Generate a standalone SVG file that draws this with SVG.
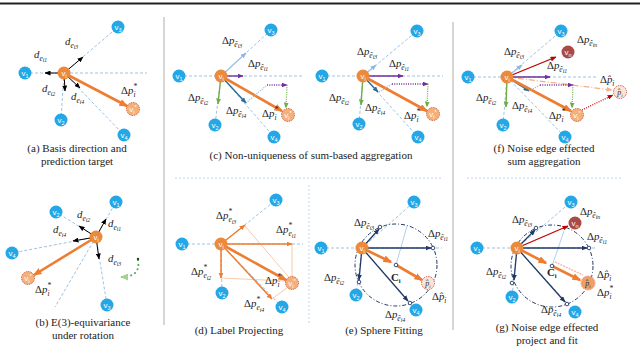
<svg xmlns="http://www.w3.org/2000/svg" width="640" height="348" viewBox="0 0 640 348">
<defs>
<style>
.n{fill:#23a7e6}
.ni{fill:#ec8a3c}
.vs{fill:#f5b07a;stroke:#c55a3a;stroke-width:0.9;stroke-dasharray:1.5 1}
.ph{fill:#fbe3d6;stroke:#c0504d;stroke-width:0.9;stroke-dasharray:1.5 1}
.vn{fill:#a94a45}
.nl{font-family:"Liberation Sans",Arial,sans-serif;font-size:8px;fill:#fff;text-anchor:middle}
.nl2{font-family:"Liberation Serif",serif;font-size:8px;fill:#333;text-anchor:middle;font-style:italic}
.m{font-family:"Liberation Serif","Times New Roman",serif;font-size:10.8px;fill:#222}
.it{font-style:italic}
.s1{font-size:7.5px;font-style:italic}
.s2{font-size:5.8px;font-style:italic}
.cap{font-family:"Liberation Serif","Times New Roman",serif;font-size:11px;fill:#222;text-anchor:middle}
.dl{stroke:#9dc3e6;stroke-width:1;stroke-dasharray:3 2;fill:none}
.bk{stroke:#000;stroke-width:1;marker-end:url(#mk)}
.or{stroke:#ed7d31;stroke-width:2.6;marker-end:url(#mo)}
.or1{stroke:#ed7d31;stroke-width:1.5;marker-end:url(#mo2)}
.pu{stroke:#7030a0;stroke-width:1.4;marker-end:url(#mp)}
.gr{stroke:#70ad47;stroke-width:1.4;marker-end:url(#mg)}
.te{stroke:#2a6f97;stroke-width:1.4;marker-end:url(#mt)}
.lb{stroke:#9dc3e6;stroke-width:1.4;marker-end:url(#mb)}
.nv{stroke:#203864;stroke-width:1.3;marker-end:url(#mn)}
.rd{stroke:#c00000;stroke-width:1.3;marker-end:url(#mr)}
.dot{stroke-width:1.3;stroke-dasharray:1 1.3;fill:none}
.prj{stroke:#f8cbad;stroke-width:1;fill:none}
.sph{stroke:#203864;stroke-width:1;stroke-dasharray:4 2 1 2;fill:none}
.mkc{fill:#fff;stroke:#203864;stroke-width:0.9}
.sep{stroke:#c8c8c8;stroke-width:1.5}
.hsep{stroke:#bdd7ee;stroke-width:1;stroke-dasharray:2 2}
</style>
<marker id="mk" viewBox="0 0 6 5" refX="5.5" refY="2.5" markerWidth="6" markerHeight="5" markerUnits="userSpaceOnUse" orient="auto"><path d="M0,0L6,2.5L0,5z" fill="#000"/></marker>
<marker id="mo" viewBox="0 0 9 7" refX="7.5" refY="3.5" markerWidth="9" markerHeight="7" markerUnits="userSpaceOnUse" orient="auto"><path d="M0,0L9,3.5L0,7z" fill="#ed7d31"/></marker>
<marker id="mo2" viewBox="0 0 6 5" refX="5.5" refY="2.5" markerWidth="6" markerHeight="5" markerUnits="userSpaceOnUse" orient="auto"><path d="M0,0L6,2.5L0,5z" fill="#ed7d31"/></marker>
<marker id="ml" viewBox="0 0 6 5" refX="5.5" refY="2.5" markerWidth="6" markerHeight="5" markerUnits="userSpaceOnUse" orient="auto"><path d="M0,0L6,2.5L0,5z" fill="#f4b183"/></marker>
<marker id="mp" viewBox="0 0 6 5" refX="5.5" refY="2.5" markerWidth="6" markerHeight="5" markerUnits="userSpaceOnUse" orient="auto"><path d="M0,0L6,2.5L0,5z" fill="#7030a0"/></marker>
<marker id="mg" viewBox="0 0 6 5" refX="5.5" refY="2.5" markerWidth="6" markerHeight="5" markerUnits="userSpaceOnUse" orient="auto"><path d="M0,0L6,2.5L0,5z" fill="#70ad47"/></marker>
<marker id="mgl" viewBox="0 0 8 7" refX="7" refY="3.5" markerWidth="8" markerHeight="7" markerUnits="userSpaceOnUse" orient="auto"><path d="M0,0L8,3.5L0,7z" fill="#a9d18e"/></marker>
<marker id="mt" viewBox="0 0 6 5" refX="5.5" refY="2.5" markerWidth="6" markerHeight="5" markerUnits="userSpaceOnUse" orient="auto"><path d="M0,0L6,2.5L0,5z" fill="#2a6f97"/></marker>
<marker id="mb" viewBox="0 0 6 5" refX="5.5" refY="2.5" markerWidth="6" markerHeight="5" markerUnits="userSpaceOnUse" orient="auto"><path d="M0,0L6,2.5L0,5z" fill="#8db9e2"/></marker>
<marker id="mn" viewBox="0 0 6 5" refX="5.5" refY="2.5" markerWidth="6" markerHeight="5" markerUnits="userSpaceOnUse" orient="auto"><path d="M0,0L6,2.5L0,5z" fill="#203864"/></marker>
<marker id="mr" viewBox="0 0 6 5" refX="5.5" refY="2.5" markerWidth="6" markerHeight="5" markerUnits="userSpaceOnUse" orient="auto"><path d="M0,0L6,2.5L0,5z" fill="#c00000"/></marker>
</defs>
<rect width="640" height="348" fill="#fff"/>

<g id="frame">
<line x1="0" y1="3.5" x2="640" y2="3.5" stroke="#222" stroke-width="2"/>
<line class="sep" x1="164" y1="17" x2="164" y2="325"/>
<line class="sep" x1="453" y1="22" x2="453" y2="330"/>
<line class="hsep" x1="175" y1="178" x2="443" y2="178"/>
<line class="hsep" x1="467" y1="178" x2="622" y2="178"/>
<line class="hsep" x1="309" y1="185" x2="309" y2="325"/>
</g>

<g id="connectors" fill="none">
<g id="conn-a">
<line class="dl" x1="25" y1="73" x2="147" y2="73"/>
<line class="dl" x1="64" y1="73" x2="118" y2="27"/>
<line class="dl" x1="64" y1="73" x2="61" y2="120"/>
<line class="dl" x1="64" y1="73" x2="124" y2="135"/>
<line class="bk" x1="64" y1="73" x2="45" y2="73"/>
<line class="bk" x1="64" y1="73" x2="83" y2="57"/>
<line class="bk" x1="64" y1="73" x2="65" y2="91"/>
<line class="bk" x1="64" y1="73" x2="80" y2="88"/>
<line class="or" x1="64" y1="73" x2="127" y2="106"/>
</g>
<g id="conn-b">
<line class="dl" x1="96" y1="237" x2="116" y2="202"/>
<line class="dl" x1="96" y1="237" x2="56" y2="212"/>
<line class="dl" x1="96" y1="237" x2="12" y2="253"/>
<line class="dl" x1="96" y1="237" x2="107" y2="305"/>
<line class="dl" x1="96" y1="237" x2="55" y2="307"/>
<line class="bk" x1="96" y1="237" x2="106" y2="219"/>
<line class="bk" x1="96" y1="237" x2="79" y2="226"/>
<line class="bk" x1="96" y1="237" x2="73" y2="241"/>
<line class="bk" x1="96" y1="237" x2="99" y2="259"/>
<line class="or" x1="96" y1="237" x2="34" y2="275"/>
<path d="M138,260 Q141,277 121,277" stroke="#4caf50" stroke-width="2" stroke-linecap="round" stroke-dasharray="0.1 4.5" marker-end="url(#mgl)"/>
<circle cx="138" cy="259" r="1.2" fill="#333"/>
</g>
<g id="conn-c1">
<line class="dl" x1="179" y1="76" x2="303" y2="76"/>
<line class="dl" x1="221" y1="76" x2="271" y2="30"/>
<line class="dl" x1="221" y1="76" x2="215" y2="125"/>
<line class="dl" x1="221" y1="76" x2="274" y2="137"/>
<line class="lb" x1="221" y1="76" x2="246" y2="53"/>
<line class="pu" x1="221" y1="76" x2="243" y2="76"/>
<line class="gr" x1="221" y1="76" x2="218" y2="104"/>
<line class="te" x1="221" y1="76" x2="246" y2="103"/>
<line class="or" x1="221" y1="76" x2="282" y2="111"/>
<line class="dot" stroke="#8db9e2" x1="246" y1="103" x2="267" y2="85"/>
<line class="dot" stroke="#7030a0" x1="267" y1="85" x2="287" y2="85" marker-end="url(#mp)"/>
<line class="dot" stroke="#70ad47" x1="287" y1="85" x2="286" y2="108" marker-end="url(#mg)"/>
</g>
<g id="conn-c2">
<line class="dl" x1="322" y1="76" x2="443" y2="76"/>
<line class="dl" x1="363" y1="76" x2="417" y2="31"/>
<line class="dl" x1="363" y1="76" x2="359" y2="124"/>
<line class="dl" x1="363" y1="76" x2="418" y2="137"/>
<line class="lb" x1="363" y1="76" x2="376" y2="65"/>
<line class="pu" x1="363" y1="76" x2="403" y2="76"/>
<line class="gr" x1="363" y1="76" x2="361" y2="105"/>
<line class="te" x1="363" y1="76" x2="378" y2="92"/>
<line class="or" x1="363" y1="76" x2="427" y2="111"/>
<line class="dot" stroke="#8db9e2" x1="379" y1="92" x2="392" y2="84"/>
<line class="dot" stroke="#7030a0" x1="392" y1="84" x2="428" y2="84" marker-end="url(#mp)"/>
<line class="dot" stroke="#70ad47" x1="428" y1="84" x2="427" y2="107" marker-end="url(#mg)"/>
</g>
<g id="conn-f">
<line class="dl" x1="468" y1="77" x2="597" y2="77"/>
<line class="dl" x1="507" y1="77" x2="561" y2="31"/>
<line class="dl" x1="507" y1="77" x2="503" y2="125"/>
<line class="dl" x1="507" y1="77" x2="565" y2="137"/>
<line stroke="#f4b183" stroke-width="1.3" stroke-dasharray="6 2 1 2" x1="507" y1="77" x2="612" y2="90" marker-end="url(#ml)"/>
<line class="rd" x1="507" y1="77" x2="556" y2="57"/>
<line class="lb" x1="507" y1="77" x2="522" y2="65"/>
<line class="pu" x1="507" y1="77" x2="550" y2="77"/>
<line class="gr" x1="507" y1="77" x2="506" y2="107"/>
<line class="te" x1="507" y1="77" x2="529" y2="91"/>
<line class="or" x1="507" y1="77" x2="571" y2="111"/>
<line class="dot" stroke="#8db9e2" x1="529" y1="91" x2="540" y2="85"/>
<line class="dot" stroke="#7030a0" x1="540" y1="85" x2="573" y2="85" marker-end="url(#mp)"/>
<line class="dot" stroke="#70ad47" x1="573" y1="85" x2="572" y2="108" marker-end="url(#mg)"/>
<line class="dot" stroke="#c00000" x1="582" y1="110" x2="613" y2="95" marker-end="url(#mr)"/>
</g>
<g id="conn-d">
<line class="dl" x1="182" y1="244" x2="303" y2="244"/>
<line class="dl" x1="221" y1="244" x2="276" y2="200"/>
<line class="dl" x1="221" y1="244" x2="222" y2="293"/>
<line class="dl" x1="221" y1="244" x2="282" y2="307"/>
<line class="prj" x1="245" y1="226" x2="292" y2="281"/>
<line class="prj" x1="292" y1="244" x2="292" y2="277"/>
<line class="prj" x1="221" y1="278" x2="286" y2="281"/>
<line class="prj" x1="273" y1="298" x2="287" y2="288"/>
<line class="or1" x1="221" y1="244" x2="245" y2="225"/>
<line class="or1" x1="221" y1="244" x2="292" y2="244"/>
<line class="or1" x1="221" y1="244" x2="221" y2="278"/>
<line class="or1" x1="221" y1="244" x2="272" y2="299"/>
<line class="or" x1="221" y1="244" x2="286" y2="280"/>
</g>
<g id="conn-e">
<line class="dl" x1="321" y1="248" x2="442" y2="248"/>
<line class="dl" x1="362" y1="248" x2="414" y2="202"/>
<line class="dl" x1="362" y1="248" x2="356" y2="295"/>
<line class="dl" x1="362" y1="248" x2="416" y2="310"/>
<circle class="sph" cx="396" cy="265" r="41"/>
<line stroke="#9dc3e6" stroke-width="0.8" x1="396" y1="265" x2="407" y2="226"/>
<line class="nv" x1="362" y1="248" x2="379" y2="229"/>
<line class="nv" x1="362" y1="248" x2="431" y2="248"/>
<line class="nv" x1="362" y1="248" x2="359" y2="280"/>
<line class="nv" x1="362" y1="248" x2="408" y2="301"/>
<line class="or" x1="362" y1="248" x2="391" y2="262"/>
<line class="or" x1="396" y1="265" x2="422" y2="280"/>
<circle class="mkc" cx="380" cy="227" r="1.8"/>
<circle class="mkc" cx="433" cy="248" r="1.8"/>
<circle class="mkc" cx="359" cy="282" r="1.8"/>
<circle class="mkc" cx="410" cy="303" r="1.8"/>
<circle class="mkc" cx="396" cy="265" r="1.8"/>
</g>
<g id="conn-g">
<line class="dl" x1="477" y1="248" x2="597" y2="248"/>
<line class="dl" x1="517" y1="248" x2="571" y2="202"/>
<line class="dl" x1="517" y1="248" x2="512" y2="297"/>
<line class="dl" x1="517" y1="248" x2="575" y2="312"/>
<circle class="sph" cx="552" cy="266" r="41"/>
<line stroke="#9dc3e6" stroke-width="0.8" x1="552" y1="266" x2="564" y2="231"/>
<line class="rd" x1="517" y1="248" x2="568" y2="226"/>
<line class="nv" x1="517" y1="248" x2="535" y2="230"/>
<line class="nv" x1="517" y1="248" x2="587" y2="248"/>
<line class="nv" x1="517" y1="248" x2="514" y2="280"/>
<line class="nv" x1="517" y1="248" x2="565" y2="302"/>
<line class="or" x1="517" y1="248" x2="546" y2="263"/>
<line class="or" x1="552" y1="266" x2="580" y2="280"/>
<line stroke="#f4b6a8" stroke-width="1.4" stroke-dasharray="2 1" x1="555" y1="262" x2="583" y2="275"/>
<circle class="mkc" cx="536" cy="228" r="1.8"/>
<circle class="mkc" cx="589" cy="248" r="1.8"/>
<circle class="mkc" cx="512" cy="283" r="1.8"/>
<circle class="mkc" cx="567" cy="304" r="1.8"/>
<circle class="mkc" cx="552" cy="266" r="1.8"/>
</g>
</g>

<g id="a-v1"><circle class="n" cx="25" cy="73" r="6.5"/><text class="nl" x="25" y="76">v<tspan font-size="5.5" dy="1.5">1</tspan></text></g>
<g id="a-v3"><circle class="n" cx="118" cy="27" r="6.5"/><text class="nl" x="118" y="30">v<tspan font-size="5.5" dy="1.5">3</tspan></text></g>
<g id="a-v2"><circle class="n" cx="61" cy="120" r="6.5"/><text class="nl" x="61" y="123">v<tspan font-size="5.5" dy="1.5">2</tspan></text></g>
<g id="a-v4"><circle class="n" cx="124" cy="135" r="6.5"/><text class="nl" x="124" y="138">v<tspan font-size="5.5" dy="1.5">4</tspan></text></g>
<g id="a-vi"><circle class="ni" cx="64" cy="73" r="6.5"/><text class="nl" x="64" y="76">v<tspan font-size="5.5" dy="1.5">i</tspan></text></g>
<g id="a-vis"><circle class="vs" cx="133" cy="109" r="6.5"/><text class="nl" x="133" y="112">v<tspan font-size="5.5" dy="1.5">i</tspan><tspan font-size="5.5" dy="-4.5">*</tspan></text></g>
<g id="b-v1"><circle class="n" cx="116" cy="202" r="6.5"/><text class="nl" x="116" y="205">v<tspan font-size="5.5" dy="1.5">1</tspan></text></g>
<g id="b-v2"><circle class="n" cx="56" cy="212" r="6.5"/><text class="nl" x="56" y="215">v<tspan font-size="5.5" dy="1.5">2</tspan></text></g>
<g id="b-v4"><circle class="n" cx="12" cy="253" r="6.5"/><text class="nl" x="12" y="256">v<tspan font-size="5.5" dy="1.5">4</tspan></text></g>
<g id="b-v3"><circle class="n" cx="107" cy="305" r="6.5"/><text class="nl" x="107" y="308">v<tspan font-size="5.5" dy="1.5">3</tspan></text></g>
<g id="b-vi"><circle class="ni" cx="96" cy="237" r="6.5"/><text class="nl" x="96" y="240">v<tspan font-size="5.5" dy="1.5">i</tspan></text></g>
<g id="b-vis"><circle class="vs" cx="28" cy="278" r="6.5"/><text class="nl" x="28" y="281">v<tspan font-size="5.5" dy="1.5">i</tspan><tspan font-size="5.5" dy="-4.5">*</tspan></text></g>
<g id="c1-v1"><circle class="n" cx="179" cy="76" r="6.5"/><text class="nl" x="179" y="79">v<tspan font-size="5.5" dy="1.5">1</tspan></text></g>
<g id="c1-v3"><circle class="n" cx="271" cy="30" r="6.5"/><text class="nl" x="271" y="33">v<tspan font-size="5.5" dy="1.5">3</tspan></text></g>
<g id="c1-v2"><circle class="n" cx="215" cy="125" r="6.5"/><text class="nl" x="215" y="128">v<tspan font-size="5.5" dy="1.5">2</tspan></text></g>
<g id="c1-v4"><circle class="n" cx="274" cy="137" r="6.5"/><text class="nl" x="274" y="140">v<tspan font-size="5.5" dy="1.5">4</tspan></text></g>
<g id="c1-vi"><circle class="ni" cx="221" cy="76" r="6.5"/><text class="nl" x="221" y="79">v<tspan font-size="5.5" dy="1.5">i</tspan></text></g>
<g id="c1-vis"><circle class="vs" cx="288" cy="115" r="6.5"/><text class="nl" x="288" y="118">v<tspan font-size="5.5" dy="1.5">i</tspan><tspan font-size="5.5" dy="-4.5">*</tspan></text></g>
<g id="c2-v1"><circle class="n" cx="322" cy="76" r="6.5"/><text class="nl" x="322" y="79">v<tspan font-size="5.5" dy="1.5">1</tspan></text></g>
<g id="c2-v3"><circle class="n" cx="417" cy="31" r="6.5"/><text class="nl" x="417" y="34">v<tspan font-size="5.5" dy="1.5">3</tspan></text></g>
<g id="c2-v2"><circle class="n" cx="359" cy="124" r="6.5"/><text class="nl" x="359" y="127">v<tspan font-size="5.5" dy="1.5">2</tspan></text></g>
<g id="c2-v4"><circle class="n" cx="418" cy="137" r="6.5"/><text class="nl" x="418" y="140">v<tspan font-size="5.5" dy="1.5">4</tspan></text></g>
<g id="c2-vi"><circle class="ni" cx="363" cy="76" r="6.5"/><text class="nl" x="363" y="79">v<tspan font-size="5.5" dy="1.5">i</tspan></text></g>
<g id="c2-vis"><circle class="vs" cx="433" cy="114" r="6.5"/><text class="nl" x="433" y="117">v<tspan font-size="5.5" dy="1.5">i</tspan><tspan font-size="5.5" dy="-4.5">*</tspan></text></g>
<g id="f-v1"><circle class="n" cx="468" cy="77" r="6.5"/><text class="nl" x="468" y="80">v<tspan font-size="5.5" dy="1.5">1</tspan></text></g>
<g id="f-v3"><circle class="n" cx="561" cy="31" r="6.5"/><text class="nl" x="561" y="34">v<tspan font-size="5.5" dy="1.5">3</tspan></text></g>
<g id="f-vn"><circle class="vn" cx="568" cy="52" r="6.5"/><text class="nl" x="568" y="55">v<tspan font-size="5.5" dy="1.5">n</tspan></text></g>
<g id="f-v2"><circle class="n" cx="503" cy="125" r="6.5"/><text class="nl" x="503" y="128">v<tspan font-size="5.5" dy="1.5">2</tspan></text></g>
<g id="f-v4"><circle class="n" cx="565" cy="137" r="6.5"/><text class="nl" x="565" y="140">v<tspan font-size="5.5" dy="1.5">4</tspan></text></g>
<g id="f-vi"><circle class="ni" cx="507" cy="77" r="6.5"/><text class="nl" x="507" y="80">v<tspan font-size="5.5" dy="1.5">i</tspan></text></g>
<g id="f-vis"><circle class="vs" cx="577" cy="115" r="6.5"/><text class="nl" x="577" y="118">v<tspan font-size="5.5" dy="1.5">i</tspan><tspan font-size="5.5" dy="-4.5">*</tspan></text></g>
<g id="f-ph"><circle class="ph" cx="620" cy="92" r="6.5"/><text class="nl2" x="620" y="95">p̂<tspan font-size="5" dy="1.5">i</tspan></text></g>
<g id="d-v1"><circle class="n" cx="182" cy="244" r="6.5"/><text class="nl" x="182" y="247">v<tspan font-size="5.5" dy="1.5">1</tspan></text></g>
<g id="d-v3"><circle class="n" cx="276" cy="200" r="6.5"/><text class="nl" x="276" y="203">v<tspan font-size="5.5" dy="1.5">3</tspan></text></g>
<g id="d-v2"><circle class="n" cx="222" cy="293" r="6.5"/><text class="nl" x="222" y="296">v<tspan font-size="5.5" dy="1.5">2</tspan></text></g>
<g id="d-v4"><circle class="n" cx="282" cy="307" r="6.5"/><text class="nl" x="282" y="310">v<tspan font-size="5.5" dy="1.5">4</tspan></text></g>
<g id="d-vi"><circle class="ni" cx="221" cy="244" r="6.5"/><text class="nl" x="221" y="247">v<tspan font-size="5.5" dy="1.5">i</tspan></text></g>
<g id="d-vis"><circle class="vs" cx="292" cy="283" r="6.5"/><text class="nl" x="292" y="286">v<tspan font-size="5.5" dy="1.5">i</tspan><tspan font-size="5.5" dy="-4.5">*</tspan></text></g>
<g id="e-v1"><circle class="n" cx="321" cy="248" r="6.5"/><text class="nl" x="321" y="251">v<tspan font-size="5.5" dy="1.5">1</tspan></text></g>
<g id="e-v3"><circle class="n" cx="414" cy="202" r="6.5"/><text class="nl" x="414" y="205">v<tspan font-size="5.5" dy="1.5">3</tspan></text></g>
<g id="e-v2"><circle class="n" cx="356" cy="295" r="6.5"/><text class="nl" x="356" y="298">v<tspan font-size="5.5" dy="1.5">2</tspan></text></g>
<g id="e-v4"><circle class="n" cx="416" cy="310" r="6.5"/><text class="nl" x="416" y="313">v<tspan font-size="5.5" dy="1.5">4</tspan></text></g>
<g id="e-vi"><circle class="ni" cx="362" cy="248" r="6.5"/><text class="nl" x="362" y="251">v<tspan font-size="5.5" dy="1.5">i</tspan></text></g>
<g id="e-ph"><circle class="ph" cx="428" cy="283" r="6.5"/><text class="nl2" x="428" y="286">p̂<tspan font-size="5" dy="1.5">i</tspan></text></g>
<g id="g-v1"><circle class="n" cx="477" cy="248" r="6.5"/><text class="nl" x="477" y="251">v<tspan font-size="5.5" dy="1.5">1</tspan></text></g>
<g id="g-v3"><circle class="n" cx="571" cy="202" r="6.5"/><text class="nl" x="571" y="205">v<tspan font-size="5.5" dy="1.5">3</tspan></text></g>
<g id="g-vn"><circle class="vn" cx="575" cy="223" r="6.5"/><text class="nl" x="575" y="226">v<tspan font-size="5.5" dy="1.5">n</tspan></text></g>
<g id="g-v2"><circle class="n" cx="512" cy="297" r="6.5"/><text class="nl" x="512" y="300">v<tspan font-size="5.5" dy="1.5">2</tspan></text></g>
<g id="g-v4"><circle class="n" cx="575" cy="312" r="6.5"/><text class="nl" x="575" y="315">v<tspan font-size="5.5" dy="1.5">4</tspan></text></g>
<g id="g-vi"><circle class="ni" cx="517" cy="248" r="6.5"/><text class="nl" x="517" y="251">v<tspan font-size="5.5" dy="1.5">i</tspan></text></g>
<g id="g-ph"><circle cx="588" cy="283" r="7" fill="#eea064" stroke="#e8a0a0" stroke-width="1" stroke-dasharray="1.5 1"/><text class="nl2" x="588" y="286" fill="#7a3a10">p̂<tspan font-size="5" dy="1.5">i</tspan></text></g>

<g id="labels" class="m">
<text x="65" y="45"><tspan class="it">d</tspan><tspan class="s1" dy="2.5">e</tspan><tspan class="s2" dy="1.5">i3</tspan></text>
<text x="34" y="58"><tspan class="it">d</tspan><tspan class="s1" dy="2.5">e</tspan><tspan class="s2" dy="1.5">i1</tspan></text>
<text x="42" y="92"><tspan class="it">d</tspan><tspan class="s1" dy="2.5">e</tspan><tspan class="s2" dy="1.5">i2</tspan></text>
<text x="71" y="100"><tspan class="it">d</tspan><tspan class="s1" dy="2.5">e</tspan><tspan class="s2" dy="1.5">i4</tspan></text>
<text x="121" y="94">Δ<tspan class="it">p</tspan><tspan class="s1" dy="-5">*</tspan><tspan class="s1" dx="-3.7" dy="8">i</tspan></text>
<text x="77" y="218"><tspan class="it">d</tspan><tspan class="s1" dy="2.5">e</tspan><tspan class="s2" dy="1.5">i2</tspan></text>
<text x="108" y="227"><tspan class="it">d</tspan><tspan class="s1" dy="2.5">e</tspan><tspan class="s2" dy="1.5">i1</tspan></text>
<text x="53" y="233"><tspan class="it">d</tspan><tspan class="s1" dy="2.5">e</tspan><tspan class="s2" dy="1.5">i4</tspan></text>
<text x="108" y="262"><tspan class="it">d</tspan><tspan class="s1" dy="2.5">e</tspan><tspan class="s2" dy="1.5">i3</tspan></text>
<text x="35" y="293">Δ<tspan class="it">p</tspan><tspan class="s1" dy="-5">*</tspan><tspan class="s1" dx="-3.7" dy="8">i</tspan></text>
<text x="222" y="44">Δ<tspan class="it">p</tspan><tspan class="s1" dy="2.5">ê</tspan><tspan class="s2" dy="1.5">i3</tspan></text>
<text x="248" y="67">Δ<tspan class="it">p</tspan><tspan class="s1" dy="2.5">ê</tspan><tspan class="s2" dy="1.5">i1</tspan></text>
<text x="188" y="101">Δ<tspan class="it">p</tspan><tspan class="s1" dy="2.5">ê</tspan><tspan class="s2" dy="1.5">i2</tspan></text>
<text x="226" y="114">Δ<tspan class="it">p</tspan><tspan class="s1" dy="2.5">ê</tspan><tspan class="s2" dy="1.5">i4</tspan></text>
<text x="262" y="117">Δ<tspan class="it">p</tspan><tspan class="s1" dy="-5">*</tspan><tspan class="s1" dx="-3.7" dy="8">i</tspan></text>
<text x="357" y="55">Δ<tspan class="it">p</tspan><tspan class="s1" dy="2.5">ê</tspan><tspan class="s2" dy="1.5">i3</tspan></text>
<text x="389" y="67">Δ<tspan class="it">p</tspan><tspan class="s1" dy="2.5">ê</tspan><tspan class="s2" dy="1.5">i1</tspan></text>
<text x="329" y="101">Δ<tspan class="it">p</tspan><tspan class="s1" dy="2.5">ê</tspan><tspan class="s2" dy="1.5">i2</tspan></text>
<text x="365" y="111">Δ<tspan class="it">p</tspan><tspan class="s1" dy="2.5">ê</tspan><tspan class="s2" dy="1.5">i4</tspan></text>
<text x="404" y="119">Δ<tspan class="it">p</tspan><tspan class="s1" dy="-5">*</tspan><tspan class="s1" dx="-3.7" dy="8">i</tspan></text>
<text x="504" y="55">Δ<tspan class="it">p</tspan><tspan class="s1" dy="2.5">ê</tspan><tspan class="s2" dy="1.5">i3</tspan></text>
<text x="577" y="43">Δ<tspan class="it">p</tspan><tspan class="s1" dy="2.5">ê</tspan><tspan class="s2" dy="1.5">in</tspan></text>
<text x="547" y="69">Δ<tspan class="it">p</tspan><tspan class="s1" dy="2.5">ê</tspan><tspan class="s2" dy="1.5">i1</tspan></text>
<text x="600" y="83">Δ<tspan class="it">p̂</tspan><tspan class="s1" dy="2.5">i</tspan></text>
<text x="476" y="101">Δ<tspan class="it">p</tspan><tspan class="s1" dy="2.5">ê</tspan><tspan class="s2" dy="1.5">i2</tspan></text>
<text x="512" y="109">Δ<tspan class="it">p</tspan><tspan class="s1" dy="2.5">ê</tspan><tspan class="s2" dy="1.5">i4</tspan></text>
<text x="549" y="119">Δ<tspan class="it">p</tspan><tspan class="s1" dy="-5">*</tspan><tspan class="s1" dx="-3.7" dy="8">i</tspan></text>
<text x="216" y="219">Δ<tspan class="it">p</tspan><tspan class="s1" dy="-5">*</tspan><tspan class="s1" dx="-3.7" dy="8">e</tspan><tspan class="s2" dy="1.5">i3</tspan></text>
<text x="276" y="233">Δ<tspan class="it">p</tspan><tspan class="s1" dy="-5">*</tspan><tspan class="s1" dx="-3.7" dy="8">e</tspan><tspan class="s2" dy="1.5">i1</tspan></text>
<text x="191" y="275">Δ<tspan class="it">p</tspan><tspan class="s1" dy="-5">*</tspan><tspan class="s1" dx="-3.7" dy="8">e</tspan><tspan class="s2" dy="1.5">i2</tspan></text>
<text x="244" y="307">Δ<tspan class="it">p</tspan><tspan class="s1" dy="-5">*</tspan><tspan class="s1" dx="-3.7" dy="8">e</tspan><tspan class="s2" dy="1.5">i4</tspan></text>
<text x="265" y="284">Δ<tspan class="it">p</tspan><tspan class="s1" dy="-5">*</tspan><tspan class="s1" dx="-3.7" dy="8">i</tspan></text>
<text x="354" y="226">Δ<tspan class="it">p</tspan><tspan class="s1" dy="2.5">ê</tspan><tspan class="s2" dy="1.5">i3</tspan></text>
<text x="428" y="237">Δ<tspan class="it">p</tspan><tspan class="s1" dy="2.5">ê</tspan><tspan class="s2" dy="1.5">i1</tspan></text>
<text x="324" y="281">Δ<tspan class="it">p</tspan><tspan class="s1" dy="2.5">ê</tspan><tspan class="s2" dy="1.5">i2</tspan></text>
<text x="385" y="318">Δ<tspan class="it">p</tspan><tspan class="s1" dy="2.5">ê</tspan><tspan class="s2" dy="1.5">i4</tspan></text>
<text x="432" y="300">Δ<tspan class="it">p̂</tspan><tspan class="s1" dy="2.5">i</tspan></text>
<text x="391" y="281" font-weight="bold">C<tspan font-size="6.5" dy="2">i</tspan></text>
<text x="512" y="223">Δ<tspan class="it">p</tspan><tspan class="s1" dy="2.5">ê</tspan><tspan class="s2" dy="1.5">i3</tspan></text>
<text x="580" y="215">Δ<tspan class="it">p</tspan><tspan class="s1" dy="2.5">ê</tspan><tspan class="s2" dy="1.5">in</tspan></text>
<text x="587" y="240">Δ<tspan class="it">p</tspan><tspan class="s1" dy="2.5">ê</tspan><tspan class="s2" dy="1.5">i1</tspan></text>
<text x="486" y="275">Δ<tspan class="it">p</tspan><tspan class="s1" dy="2.5">ê</tspan><tspan class="s2" dy="1.5">i2</tspan></text>
<text x="541" y="313">Δ<tspan class="it">p</tspan><tspan class="s1" dy="2.5">ê</tspan><tspan class="s2" dy="1.5">i4</tspan></text>
<text x="597" y="278">Δ<tspan class="it">p̂</tspan><tspan class="s1" dy="2.5">i</tspan></text>
<text x="597" y="296">Δ<tspan class="it">p</tspan><tspan class="s1" dy="-5">*</tspan><tspan class="s1" dx="-3.7" dy="8">i</tspan></text>
<text x="547" y="276" font-weight="bold">C<tspan font-size="6.5" dy="2">i</tspan></text>
</g>

<g id="captions">
<text class="cap" x="77" y="152">(a) Basis direction and</text>
<text class="cap" x="77" y="165">prediction target</text>
<text class="cap" x="83" y="326">(b) E(3)-equivariance</text>
<text class="cap" x="83" y="339">under rotation</text>
<text class="cap" x="311" y="159">(c) Non-uniqueness of sum-based aggregation</text>
<text class="cap" x="544" y="152">(f) Noise edge effected</text>
<text class="cap" x="544" y="165">sum aggregation</text>
<text class="cap" x="239" y="334">(d) Label Projecting</text>
<text class="cap" x="384" y="334">(e) Sphere Fitting</text>
<text class="cap" x="547" y="331">(g) Noise edge effected</text>
<text class="cap" x="547" y="344">project and fit</text>
</g>
</svg>
